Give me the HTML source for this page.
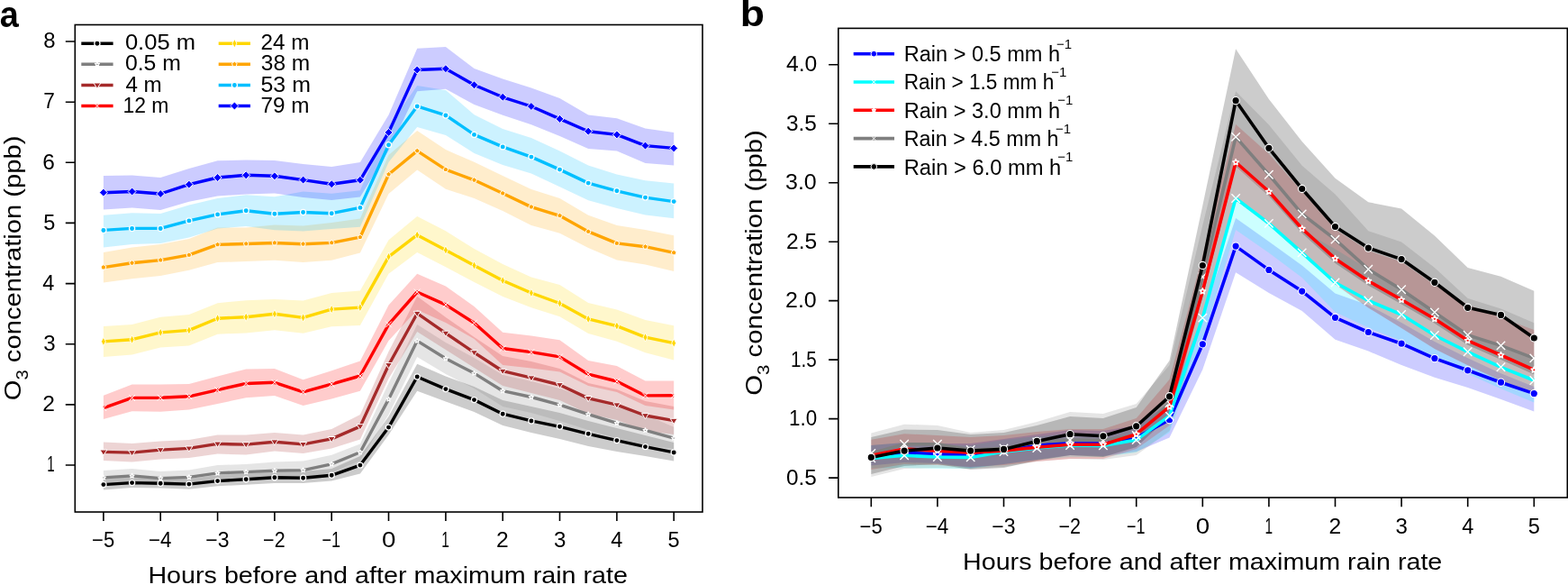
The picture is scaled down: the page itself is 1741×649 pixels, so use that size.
<!DOCTYPE html><html><head><meta charset="utf-8"><style>html,body{margin:0;padding:0;background:#fff;}svg{display:block;}text{font-family:"Liberation Sans",Arial,sans-serif;fill:#000;}</style></head><body>
<svg width="1741" height="649" viewBox="0 0 1741 649">
<rect width="1741" height="649" fill="#fff"/>
<polygon points="114.9,531 146.6,529 178.2,530 209.9,531 241.6,527 273.2,525 304.9,523 336.6,523 368.2,520 399.9,506 431.5,462 463.2,403.7 494.9,417.5 526.5,429 558.2,444 589.9,451 621.5,458 653.2,467 684.9,475 716.5,483 748.2,491.1 748.2,511.6 716.5,506 684.9,501 653.2,495 621.5,487 589.9,480 558.2,472 526.5,457 494.9,445.4 463.2,433.7 431.5,482.4 399.9,525.6 368.2,533.6 336.6,536 304.9,536.1 273.2,537.8 241.6,539.3 209.9,542.8 178.2,541.6 146.6,541.1 114.9,543.6" fill="#000000" fill-opacity="0.2"/>
<polygon points="114.9,521.9 146.6,519.9 178.2,522.9 209.9,521.6 241.6,516.1 273.2,514.9 304.9,512.6 336.6,511.6 368.2,504.8 399.9,492.4 431.5,425 463.2,360 494.9,380 526.5,397 558.2,416 589.9,423 621.5,431 653.2,442 684.9,452 716.5,460 748.2,473.7 748.2,498 716.5,494 684.9,486 653.2,477 621.5,467 589.9,458 558.2,451 526.5,431 494.9,415 463.2,396.1 431.5,460 399.9,511 368.2,524 336.6,531 304.9,531 273.2,532 241.6,533 209.9,537.5 178.2,538.5 146.6,536 114.9,538" fill="#7f7f7f" fill-opacity="0.2"/>
<polygon points="114.9,490.4 146.6,491.9 178.2,489.4 209.9,487.9 241.6,482.4 273.2,482.4 304.9,479.9 336.6,482.4 368.2,476.1 399.9,459.9 431.5,390 463.2,328.7 494.9,352 526.5,374 558.2,394.9 589.9,401 621.5,409 653.2,425 684.9,432 716.5,445 748.2,451 748.2,482 716.5,478 684.9,466 653.2,459 621.5,444 589.9,436 558.2,428 526.5,408 494.9,388 463.2,368 431.5,420 399.9,487.4 368.2,497.4 336.6,503.1 304.9,500.5 273.2,504.4 241.6,503.6 209.9,507.9 178.2,509.4 146.6,512.4 114.9,511.1" fill="#a52a2a" fill-opacity="0.2"/>
<polygon points="114.9,438.7 146.6,426.5 178.2,426.6 209.9,426.1 241.6,417.4 273.2,409.4 304.9,409 336.6,421.2 368.2,411.2 399.9,400.5 431.5,338.6 463.2,303.7 494.9,317.5 526.5,339.9 558.2,368.7 589.9,372.4 621.5,377.2 653.2,399.9 684.9,406.1 716.5,422.4 748.2,422.4 748.2,454.5 716.5,450 684.9,435 653.2,428 621.5,412.4 589.9,408.6 558.2,404.9 526.5,376 494.9,358 463.2,343.7 431.5,378 399.9,433.7 368.2,442.4 336.6,449.9 304.9,439 273.2,441.2 241.6,448 209.9,454.4 178.2,456.7 146.6,456.2 114.9,464.9" fill="#ff0000" fill-opacity="0.2"/>
<polygon points="114.9,361.9 146.6,359.9 178.2,351.7 209.9,348.9 241.6,336.2 273.2,333.2 304.9,332 336.6,333.6 368.2,324.9 399.9,322.4 431.5,266.2 463.2,240 494.9,256.2 526.5,276 558.2,293 589.9,307.4 621.5,316.1 653.2,336.1 684.9,343.6 716.5,355 748.2,361.2 748.2,399.4 716.5,391.2 684.9,378.7 653.2,369.9 621.5,351.2 589.9,341.2 558.2,329 526.5,313 494.9,296.2 463.2,280 431.5,303.7 399.9,361.1 368.2,362.3 336.6,369.8 304.9,366.2 273.2,369.4 241.6,370.7 209.9,383.6 178.2,385.6 146.6,393.6 114.9,396.1" fill="#ffd700" fill-opacity="0.2"/>
<polygon points="114.9,279.9 146.6,274.4 178.2,271.1 209.9,264.9 241.6,252.4 273.2,252.4 304.9,249.4 336.6,250.6 368.2,247.1 399.9,242.5 431.5,172 463.2,144.9 494.9,166.1 526.5,179.8 558.2,195 589.9,210 621.5,220 653.2,238.7 684.9,249.9 716.5,254.9 748.2,261.2 748.2,301.1 716.5,293.6 684.9,288.6 653.2,274.9 621.5,258.7 589.9,249.9 558.2,234 526.5,220 494.9,209.8 463.2,188.6 431.5,215 399.9,280.6 368.2,288.7 336.6,291 304.9,288.7 273.2,289.9 241.6,291.1 209.9,299.8 178.2,306.1 146.6,309.3 114.9,313.6" fill="#ffa500" fill-opacity="0.2"/>
<polygon points="114.9,238.7 146.6,236.2 178.2,236.9 209.9,227.4 241.6,219.9 273.2,216.2 304.9,218.2 336.6,212.4 368.2,214.7 399.9,211.3 431.5,140 463.2,95 494.9,100 526.5,127.2 558.2,142.9 589.9,153 621.5,167.4 653.2,183.6 684.9,193.6 716.5,200.3 748.2,203.6 748.2,242.3 716.5,238.6 684.9,231.1 653.2,222.3 621.5,207.3 589.9,192.4 558.2,183 526.5,170 494.9,149.9 463.2,141.1 431.5,180 399.9,251.7 368.2,254 336.6,256.4 304.9,255.2 273.2,251.1 241.6,253.6 209.9,263.6 178.2,269.9 146.6,271.1 114.9,274.4" fill="#00bfff" fill-opacity="0.2"/>
<polygon points="114.9,195 146.6,194.5 178.2,197 209.9,187 241.6,178.2 273.2,177.5 304.9,178 336.6,182 368.2,185 399.9,180 431.5,127.4 463.2,53.7 494.9,52 526.5,76 558.2,87.5 589.9,97.5 621.5,109 653.2,127.4 684.9,131.2 716.5,142.4 748.2,146.9 748.2,183.6 716.5,181.1 684.9,167.4 653.2,164.9 621.5,151 589.9,138.3 558.2,127.7 526.5,116.1 494.9,98.7 463.2,101.2 431.5,167 399.9,218.5 368.2,222 336.6,219 304.9,214.5 273.2,215.5 241.6,217.4 209.9,223.7 178.2,232.9 146.6,230.4 114.9,232.4" fill="#0000ff" fill-opacity="0.2"/>
<polyline points="114.9,213.7 146.6,212.5 178.2,215 209.9,204.7 241.6,197 273.2,194.3 304.9,195.3 336.6,199.6 368.2,204.2 399.9,199.8 431.5,146.9 463.2,77.5 494.9,76.2 526.5,94.3 558.2,107.8 589.9,118 621.5,131.9 653.2,145.7 684.9,149.4 716.5,161.6 748.2,164.4" fill="none" stroke="#0000ff" stroke-width="3.4" stroke-linejoin="round"/>
<polygon points="114.9,209.2 119.4,213.7 114.9,218.2 110.4,213.7" fill="#0000ff" stroke="#fff" stroke-width="1"/>
<polygon points="146.6,208 151.1,212.5 146.6,217 142.1,212.5" fill="#0000ff" stroke="#fff" stroke-width="1"/>
<polygon points="178.2,210.5 182.7,215 178.2,219.5 173.7,215" fill="#0000ff" stroke="#fff" stroke-width="1"/>
<polygon points="209.9,200.2 214.4,204.7 209.9,209.2 205.4,204.7" fill="#0000ff" stroke="#fff" stroke-width="1"/>
<polygon points="241.6,192.5 246.1,197 241.6,201.5 237.1,197" fill="#0000ff" stroke="#fff" stroke-width="1"/>
<polygon points="273.2,189.8 277.7,194.3 273.2,198.8 268.7,194.3" fill="#0000ff" stroke="#fff" stroke-width="1"/>
<polygon points="304.9,190.8 309.4,195.3 304.9,199.8 300.4,195.3" fill="#0000ff" stroke="#fff" stroke-width="1"/>
<polygon points="336.6,195.1 341.1,199.6 336.6,204.1 332.1,199.6" fill="#0000ff" stroke="#fff" stroke-width="1"/>
<polygon points="368.2,199.7 372.7,204.2 368.2,208.7 363.7,204.2" fill="#0000ff" stroke="#fff" stroke-width="1"/>
<polygon points="399.9,195.3 404.4,199.8 399.9,204.3 395.4,199.8" fill="#0000ff" stroke="#fff" stroke-width="1"/>
<polygon points="431.5,142.4 436,146.9 431.5,151.4 427,146.9" fill="#0000ff" stroke="#fff" stroke-width="1"/>
<polygon points="463.2,73 467.7,77.5 463.2,82 458.7,77.5" fill="#0000ff" stroke="#fff" stroke-width="1"/>
<polygon points="494.9,71.7 499.4,76.2 494.9,80.7 490.4,76.2" fill="#0000ff" stroke="#fff" stroke-width="1"/>
<polygon points="526.5,89.8 531,94.3 526.5,98.8 522,94.3" fill="#0000ff" stroke="#fff" stroke-width="1"/>
<polygon points="558.2,103.3 562.7,107.8 558.2,112.3 553.7,107.8" fill="#0000ff" stroke="#fff" stroke-width="1"/>
<polygon points="589.9,113.5 594.4,118 589.9,122.5 585.4,118" fill="#0000ff" stroke="#fff" stroke-width="1"/>
<polygon points="621.5,127.4 626,131.9 621.5,136.4 617,131.9" fill="#0000ff" stroke="#fff" stroke-width="1"/>
<polygon points="653.2,141.2 657.7,145.7 653.2,150.2 648.7,145.7" fill="#0000ff" stroke="#fff" stroke-width="1"/>
<polygon points="684.9,144.9 689.4,149.4 684.9,153.9 680.4,149.4" fill="#0000ff" stroke="#fff" stroke-width="1"/>
<polygon points="716.5,157.1 721,161.6 716.5,166.1 712,161.6" fill="#0000ff" stroke="#fff" stroke-width="1"/>
<polygon points="748.2,159.9 752.7,164.4 748.2,168.9 743.7,164.4" fill="#0000ff" stroke="#fff" stroke-width="1"/>
<polyline points="114.9,255.4 146.6,253.4 178.2,253.4 209.9,244.9 241.6,237.9 273.2,233.7 304.9,237.3 336.6,235.5 368.2,236.7 399.9,230.4 431.5,160.8 463.2,117.9 494.9,127.9 526.5,149.4 558.2,162.9 589.9,174.1 621.5,188.1 653.2,203.1 684.9,211.8 716.5,219.1 748.2,223.6" fill="none" stroke="#00bfff" stroke-width="3.4" stroke-linejoin="round"/>
<circle cx="114.9" cy="255.4" r="3.1" fill="#00bfff" stroke="#fff" stroke-width="1.25"/>
<circle cx="146.6" cy="253.4" r="3.1" fill="#00bfff" stroke="#fff" stroke-width="1.25"/>
<circle cx="178.2" cy="253.4" r="3.1" fill="#00bfff" stroke="#fff" stroke-width="1.25"/>
<circle cx="209.9" cy="244.9" r="3.1" fill="#00bfff" stroke="#fff" stroke-width="1.25"/>
<circle cx="241.6" cy="237.9" r="3.1" fill="#00bfff" stroke="#fff" stroke-width="1.25"/>
<circle cx="273.2" cy="233.7" r="3.1" fill="#00bfff" stroke="#fff" stroke-width="1.25"/>
<circle cx="304.9" cy="237.3" r="3.1" fill="#00bfff" stroke="#fff" stroke-width="1.25"/>
<circle cx="336.6" cy="235.5" r="3.1" fill="#00bfff" stroke="#fff" stroke-width="1.25"/>
<circle cx="368.2" cy="236.7" r="3.1" fill="#00bfff" stroke="#fff" stroke-width="1.25"/>
<circle cx="399.9" cy="230.4" r="3.1" fill="#00bfff" stroke="#fff" stroke-width="1.25"/>
<circle cx="431.5" cy="160.8" r="3.1" fill="#00bfff" stroke="#fff" stroke-width="1.25"/>
<circle cx="463.2" cy="117.9" r="3.1" fill="#00bfff" stroke="#fff" stroke-width="1.25"/>
<circle cx="494.9" cy="127.9" r="3.1" fill="#00bfff" stroke="#fff" stroke-width="1.25"/>
<circle cx="526.5" cy="149.4" r="3.1" fill="#00bfff" stroke="#fff" stroke-width="1.25"/>
<circle cx="558.2" cy="162.9" r="3.1" fill="#00bfff" stroke="#fff" stroke-width="1.25"/>
<circle cx="589.9" cy="174.1" r="3.1" fill="#00bfff" stroke="#fff" stroke-width="1.25"/>
<circle cx="621.5" cy="188.1" r="3.1" fill="#00bfff" stroke="#fff" stroke-width="1.25"/>
<circle cx="653.2" cy="203.1" r="3.1" fill="#00bfff" stroke="#fff" stroke-width="1.25"/>
<circle cx="684.9" cy="211.8" r="3.1" fill="#00bfff" stroke="#fff" stroke-width="1.25"/>
<circle cx="716.5" cy="219.1" r="3.1" fill="#00bfff" stroke="#fff" stroke-width="1.25"/>
<circle cx="748.2" cy="223.6" r="3.1" fill="#00bfff" stroke="#fff" stroke-width="1.25"/>
<polyline points="114.9,296.6 146.6,291.8 178.2,288.6 209.9,282.9 241.6,271.4 273.2,270.5 304.9,269.5 336.6,270.7 368.2,269.4 399.9,263.2 431.5,193.5 463.2,167.4 494.9,188.1 526.5,199.8 558.2,214.5 589.9,229.6 621.5,239.3 653.2,256.9 684.9,269.9 716.5,273.7 748.2,280.4" fill="none" stroke="#ffa500" stroke-width="3.4" stroke-linejoin="round"/>
<polygon points="114.9,293.6 117.8,295.7 116.7,299 113.1,299 112,295.7" fill="#ffa500" stroke="#fff" stroke-width="1"/>
<polygon points="146.6,288.8 149.4,290.9 148.3,294.2 144.8,294.2 143.7,290.9" fill="#ffa500" stroke="#fff" stroke-width="1"/>
<polygon points="178.2,285.6 181.1,287.7 180,291 176.5,291 175.4,287.7" fill="#ffa500" stroke="#fff" stroke-width="1"/>
<polygon points="209.9,279.9 212.7,282 211.7,285.3 208.1,285.3 207,282" fill="#ffa500" stroke="#fff" stroke-width="1"/>
<polygon points="241.6,268.4 244.4,270.5 243.3,273.8 239.8,273.8 238.7,270.5" fill="#ffa500" stroke="#fff" stroke-width="1"/>
<polygon points="273.2,267.5 276.1,269.6 275,272.9 271.5,272.9 270.4,269.6" fill="#ffa500" stroke="#fff" stroke-width="1"/>
<polygon points="304.9,266.5 307.7,268.6 306.7,271.9 303.1,271.9 302,268.6" fill="#ffa500" stroke="#fff" stroke-width="1"/>
<polygon points="336.6,267.7 339.4,269.8 338.3,273.1 334.8,273.1 333.7,269.8" fill="#ffa500" stroke="#fff" stroke-width="1"/>
<polygon points="368.2,266.4 371.1,268.5 370,271.8 366.5,271.8 365.4,268.5" fill="#ffa500" stroke="#fff" stroke-width="1"/>
<polygon points="399.9,260.2 402.7,262.3 401.6,265.6 398.1,265.6 397,262.3" fill="#ffa500" stroke="#fff" stroke-width="1"/>
<polygon points="431.5,190.5 434.4,192.6 433.3,195.9 429.8,195.9 428.7,192.6" fill="#ffa500" stroke="#fff" stroke-width="1"/>
<polygon points="463.2,164.4 466.1,166.5 465,169.8 461.5,169.8 460.4,166.5" fill="#ffa500" stroke="#fff" stroke-width="1"/>
<polygon points="494.9,185.1 497.7,187.2 496.6,190.5 493.1,190.5 492,187.2" fill="#ffa500" stroke="#fff" stroke-width="1"/>
<polygon points="526.5,196.8 529.4,198.9 528.3,202.2 524.8,202.2 523.7,198.9" fill="#ffa500" stroke="#fff" stroke-width="1"/>
<polygon points="558.2,211.5 561.1,213.6 560,216.9 556.4,216.9 555.4,213.6" fill="#ffa500" stroke="#fff" stroke-width="1"/>
<polygon points="589.9,226.6 592.7,228.7 591.6,232 588.1,232 587,228.7" fill="#ffa500" stroke="#fff" stroke-width="1"/>
<polygon points="621.5,236.3 624.4,238.4 623.3,241.7 619.8,241.7 618.7,238.4" fill="#ffa500" stroke="#fff" stroke-width="1"/>
<polygon points="653.2,253.9 656.1,256 655,259.3 651.4,259.3 650.4,256" fill="#ffa500" stroke="#fff" stroke-width="1"/>
<polygon points="684.9,266.9 687.7,269 686.6,272.3 683.1,272.3 682,269" fill="#ffa500" stroke="#fff" stroke-width="1"/>
<polygon points="716.5,270.7 719.4,272.8 718.3,276.1 714.8,276.1 713.7,272.8" fill="#ffa500" stroke="#fff" stroke-width="1"/>
<polygon points="748.2,277.4 751.1,279.5 750,282.8 746.4,282.8 745.3,279.5" fill="#ffa500" stroke="#fff" stroke-width="1"/>
<polyline points="114.9,378.9 146.6,376.7 178.2,368.9 209.9,366.4 241.6,353.2 273.2,351.7 304.9,348.3 336.6,352.4 368.2,343.1 399.9,341.1 431.5,284.9 463.2,260.7 494.9,277.5 526.5,294.5 558.2,311.2 589.9,325 621.5,336.5 653.2,353.9 684.9,361.6 716.5,374.2 748.2,380.7" fill="none" stroke="#ffd700" stroke-width="3.4" stroke-linejoin="round"/>
<polygon points="114.9,374.1 117.4,378.9 114.9,383.7 112.4,378.9" fill="#ffd700" stroke="#fff" stroke-width="0.9"/>
<polygon points="146.6,371.9 149.1,376.7 146.6,381.5 144.1,376.7" fill="#ffd700" stroke="#fff" stroke-width="0.9"/>
<polygon points="178.2,364.1 180.7,368.9 178.2,373.7 175.7,368.9" fill="#ffd700" stroke="#fff" stroke-width="0.9"/>
<polygon points="209.9,361.6 212.4,366.4 209.9,371.2 207.4,366.4" fill="#ffd700" stroke="#fff" stroke-width="0.9"/>
<polygon points="241.6,348.4 244.1,353.2 241.6,358 239.1,353.2" fill="#ffd700" stroke="#fff" stroke-width="0.9"/>
<polygon points="273.2,346.9 275.7,351.7 273.2,356.5 270.7,351.7" fill="#ffd700" stroke="#fff" stroke-width="0.9"/>
<polygon points="304.9,343.5 307.4,348.3 304.9,353.1 302.4,348.3" fill="#ffd700" stroke="#fff" stroke-width="0.9"/>
<polygon points="336.6,347.6 339.1,352.4 336.6,357.2 334.1,352.4" fill="#ffd700" stroke="#fff" stroke-width="0.9"/>
<polygon points="368.2,338.3 370.7,343.1 368.2,347.9 365.7,343.1" fill="#ffd700" stroke="#fff" stroke-width="0.9"/>
<polygon points="399.9,336.3 402.4,341.1 399.9,345.9 397.4,341.1" fill="#ffd700" stroke="#fff" stroke-width="0.9"/>
<polygon points="431.5,280.1 434,284.9 431.5,289.7 429,284.9" fill="#ffd700" stroke="#fff" stroke-width="0.9"/>
<polygon points="463.2,255.9 465.7,260.7 463.2,265.5 460.7,260.7" fill="#ffd700" stroke="#fff" stroke-width="0.9"/>
<polygon points="494.9,272.7 497.4,277.5 494.9,282.3 492.4,277.5" fill="#ffd700" stroke="#fff" stroke-width="0.9"/>
<polygon points="526.5,289.7 529,294.5 526.5,299.3 524,294.5" fill="#ffd700" stroke="#fff" stroke-width="0.9"/>
<polygon points="558.2,306.4 560.7,311.2 558.2,316 555.7,311.2" fill="#ffd700" stroke="#fff" stroke-width="0.9"/>
<polygon points="589.9,320.2 592.4,325 589.9,329.8 587.4,325" fill="#ffd700" stroke="#fff" stroke-width="0.9"/>
<polygon points="621.5,331.7 624,336.5 621.5,341.3 619,336.5" fill="#ffd700" stroke="#fff" stroke-width="0.9"/>
<polygon points="653.2,349.1 655.7,353.9 653.2,358.7 650.7,353.9" fill="#ffd700" stroke="#fff" stroke-width="0.9"/>
<polygon points="684.9,356.8 687.4,361.6 684.9,366.4 682.4,361.6" fill="#ffd700" stroke="#fff" stroke-width="0.9"/>
<polygon points="716.5,369.4 719,374.2 716.5,379 714,374.2" fill="#ffd700" stroke="#fff" stroke-width="0.9"/>
<polygon points="748.2,375.9 750.7,380.7 748.2,385.5 745.7,380.7" fill="#ffd700" stroke="#fff" stroke-width="0.9"/>
<polyline points="114.9,452.6 146.6,441.4 178.2,441.2 209.9,439.8 241.6,432.6 273.2,425.5 304.9,424.3 336.6,434.9 368.2,426.2 399.9,417 431.5,359.9 463.2,324 494.9,338.1 526.5,358.2 558.2,386.5 589.9,390.6 621.5,395.9 653.2,415.2 684.9,423 716.5,438.9 748.2,438.7" fill="none" stroke="#ff0000" stroke-width="3.4" stroke-linejoin="round"/>
<path d="M111.5 449.2L118.3 456M111.5 456L118.3 449.2" stroke="#fff" stroke-width="1.0" fill="none"/>
<path d="M143.2 438L150 444.8M143.2 444.8L150 438" stroke="#fff" stroke-width="1.0" fill="none"/>
<path d="M174.8 437.8L181.6 444.6M174.8 444.6L181.6 437.8" stroke="#fff" stroke-width="1.0" fill="none"/>
<path d="M206.5 436.4L213.3 443.2M206.5 443.2L213.3 436.4" stroke="#fff" stroke-width="1.0" fill="none"/>
<path d="M238.2 429.2L245 436M238.2 436L245 429.2" stroke="#fff" stroke-width="1.0" fill="none"/>
<path d="M269.8 422.1L276.6 428.9M269.8 428.9L276.6 422.1" stroke="#fff" stroke-width="1.0" fill="none"/>
<path d="M301.5 420.9L308.3 427.7M301.5 427.7L308.3 420.9" stroke="#fff" stroke-width="1.0" fill="none"/>
<path d="M333.2 431.5L340 438.3M333.2 438.3L340 431.5" stroke="#fff" stroke-width="1.0" fill="none"/>
<path d="M364.8 422.8L371.6 429.6M364.8 429.6L371.6 422.8" stroke="#fff" stroke-width="1.0" fill="none"/>
<path d="M396.5 413.6L403.3 420.4M396.5 420.4L403.3 413.6" stroke="#fff" stroke-width="1.0" fill="none"/>
<path d="M428.1 356.5L434.9 363.3M428.1 363.3L434.9 356.5" stroke="#fff" stroke-width="1.0" fill="none"/>
<path d="M459.8 320.6L466.6 327.4M459.8 327.4L466.6 320.6" stroke="#fff" stroke-width="1.0" fill="none"/>
<path d="M491.5 334.7L498.3 341.5M491.5 341.5L498.3 334.7" stroke="#fff" stroke-width="1.0" fill="none"/>
<path d="M523.1 354.8L529.9 361.6M523.1 361.6L529.9 354.8" stroke="#fff" stroke-width="1.0" fill="none"/>
<path d="M554.8 383.1L561.6 389.9M554.8 389.9L561.6 383.1" stroke="#fff" stroke-width="1.0" fill="none"/>
<path d="M586.5 387.2L593.3 394M586.5 394L593.3 387.2" stroke="#fff" stroke-width="1.0" fill="none"/>
<path d="M618.1 392.5L624.9 399.3M618.1 399.3L624.9 392.5" stroke="#fff" stroke-width="1.0" fill="none"/>
<path d="M649.8 411.8L656.6 418.6M649.8 418.6L656.6 411.8" stroke="#fff" stroke-width="1.0" fill="none"/>
<path d="M681.5 419.6L688.3 426.4M681.5 426.4L688.3 419.6" stroke="#fff" stroke-width="1.0" fill="none"/>
<path d="M713.1 435.5L719.9 442.3M713.1 442.3L719.9 435.5" stroke="#fff" stroke-width="1.0" fill="none"/>
<path d="M744.8 435.3L751.6 442.1M744.8 442.1L751.6 435.3" stroke="#fff" stroke-width="1.0" fill="none"/>
<polyline points="114.9,501.4 146.6,502.1 178.2,499.1 209.9,497.4 241.6,492.4 273.2,493.1 304.9,490.2 336.6,492.9 368.2,486.9 399.9,473.1 431.5,405 463.2,347.7 494.9,369.6 526.5,391.1 558.2,411.7 589.9,419.2 621.5,427 653.2,441.9 684.9,449.2 716.5,461 748.2,466.7" fill="none" stroke="#a52a2a" stroke-width="3.4" stroke-linejoin="round"/>
<polygon points="110.9,499 118.9,499 114.9,505.2" fill="#a52a2a" stroke="#fff" stroke-width="1"/>
<polygon points="142.6,499.7 150.6,499.7 146.6,505.9" fill="#a52a2a" stroke="#fff" stroke-width="1"/>
<polygon points="174.2,496.7 182.2,496.7 178.2,502.9" fill="#a52a2a" stroke="#fff" stroke-width="1"/>
<polygon points="205.9,495 213.9,495 209.9,501.2" fill="#a52a2a" stroke="#fff" stroke-width="1"/>
<polygon points="237.6,490 245.6,490 241.6,496.2" fill="#a52a2a" stroke="#fff" stroke-width="1"/>
<polygon points="269.2,490.7 277.2,490.7 273.2,496.9" fill="#a52a2a" stroke="#fff" stroke-width="1"/>
<polygon points="300.9,487.8 308.9,487.8 304.9,494" fill="#a52a2a" stroke="#fff" stroke-width="1"/>
<polygon points="332.6,490.5 340.6,490.5 336.6,496.7" fill="#a52a2a" stroke="#fff" stroke-width="1"/>
<polygon points="364.2,484.5 372.2,484.5 368.2,490.7" fill="#a52a2a" stroke="#fff" stroke-width="1"/>
<polygon points="395.9,470.7 403.9,470.7 399.9,476.9" fill="#a52a2a" stroke="#fff" stroke-width="1"/>
<polygon points="427.5,402.6 435.5,402.6 431.5,408.8" fill="#a52a2a" stroke="#fff" stroke-width="1"/>
<polygon points="459.2,345.3 467.2,345.3 463.2,351.5" fill="#a52a2a" stroke="#fff" stroke-width="1"/>
<polygon points="490.9,367.2 498.9,367.2 494.9,373.4" fill="#a52a2a" stroke="#fff" stroke-width="1"/>
<polygon points="522.5,388.7 530.5,388.7 526.5,394.9" fill="#a52a2a" stroke="#fff" stroke-width="1"/>
<polygon points="554.2,409.3 562.2,409.3 558.2,415.5" fill="#a52a2a" stroke="#fff" stroke-width="1"/>
<polygon points="585.9,416.8 593.9,416.8 589.9,423" fill="#a52a2a" stroke="#fff" stroke-width="1"/>
<polygon points="617.5,424.6 625.5,424.6 621.5,430.8" fill="#a52a2a" stroke="#fff" stroke-width="1"/>
<polygon points="649.2,439.5 657.2,439.5 653.2,445.7" fill="#a52a2a" stroke="#fff" stroke-width="1"/>
<polygon points="680.9,446.8 688.9,446.8 684.9,453" fill="#a52a2a" stroke="#fff" stroke-width="1"/>
<polygon points="712.5,458.6 720.5,458.6 716.5,464.8" fill="#a52a2a" stroke="#fff" stroke-width="1"/>
<polygon points="744.2,464.3 752.2,464.3 748.2,470.5" fill="#a52a2a" stroke="#fff" stroke-width="1"/>
<polyline points="114.9,529.9 146.6,527.9 178.2,530.6 209.9,529.4 241.6,524.9 273.2,523.6 304.9,522.1 336.6,521.6 368.2,514.8 399.9,501.8 431.5,442.9 463.2,378.1 494.9,397.8 526.5,414.1 558.2,433.7 589.9,440.5 621.5,449.2 653.2,459.6 684.9,469.4 716.5,477.4 748.2,486.1" fill="none" stroke="#7f7f7f" stroke-width="3.4" stroke-linejoin="round"/>
<polygon points="114.9,527.3 115.6,529 117.4,529.1 116,530.3 116.4,532 114.9,531.1 113.4,532 113.8,530.3 112.4,529.1 114.2,529" fill="#7f7f7f" stroke="#fff" stroke-width="1.3" stroke-linejoin="round"/>
<polygon points="146.6,525.3 147.3,527 149,527.1 147.7,528.3 148.1,530 146.6,529.1 145,530 145.5,528.3 144.1,527.1 145.9,527" fill="#7f7f7f" stroke="#fff" stroke-width="1.3" stroke-linejoin="round"/>
<polygon points="178.2,528 178.9,529.7 180.7,529.8 179.3,531 179.8,532.7 178.2,531.8 176.7,532.7 177.1,531 175.8,529.8 177.5,529.7" fill="#7f7f7f" stroke="#fff" stroke-width="1.3" stroke-linejoin="round"/>
<polygon points="209.9,526.8 210.6,528.5 212.4,528.6 211,529.8 211.4,531.5 209.9,530.6 208.4,531.5 208.8,529.8 207.4,528.6 209.2,528.5" fill="#7f7f7f" stroke="#fff" stroke-width="1.3" stroke-linejoin="round"/>
<polygon points="241.6,522.3 242.2,524 244,524.1 242.7,525.3 243.1,527 241.6,526.1 240,527 240.4,525.3 239.1,524.1 240.9,524" fill="#7f7f7f" stroke="#fff" stroke-width="1.3" stroke-linejoin="round"/>
<polygon points="273.2,521 273.9,522.7 275.7,522.8 274.3,524 274.8,525.7 273.2,524.8 271.7,525.7 272.1,524 270.8,522.8 272.5,522.7" fill="#7f7f7f" stroke="#fff" stroke-width="1.3" stroke-linejoin="round"/>
<polygon points="304.9,519.5 305.6,521.2 307.4,521.3 306,522.5 306.4,524.2 304.9,523.3 303.4,524.2 303.8,522.5 302.4,521.3 304.2,521.2" fill="#7f7f7f" stroke="#fff" stroke-width="1.3" stroke-linejoin="round"/>
<polygon points="336.6,519 337.2,520.7 339,520.8 337.7,522 338.1,523.7 336.6,522.8 335,523.7 335.4,522 334.1,520.8 335.9,520.7" fill="#7f7f7f" stroke="#fff" stroke-width="1.3" stroke-linejoin="round"/>
<polygon points="368.2,512.2 368.9,513.9 370.7,514 369.3,515.2 369.7,516.9 368.2,516 366.7,516.9 367.1,515.2 365.7,514 367.5,513.9" fill="#7f7f7f" stroke="#fff" stroke-width="1.3" stroke-linejoin="round"/>
<polygon points="399.9,499.2 400.6,500.9 402.4,501 401,502.2 401.4,503.9 399.9,503 398.4,503.9 398.8,502.2 397.4,501 399.2,500.9" fill="#7f7f7f" stroke="#fff" stroke-width="1.3" stroke-linejoin="round"/>
<polygon points="431.5,440.3 432.2,442 434,442.1 432.7,443.3 433.1,445 431.5,444.1 430,445 430.4,443.3 429.1,442.1 430.9,442" fill="#7f7f7f" stroke="#fff" stroke-width="1.3" stroke-linejoin="round"/>
<polygon points="463.2,375.5 463.9,377.2 465.7,377.3 464.3,378.5 464.7,380.2 463.2,379.3 461.7,380.2 462.1,378.5 460.7,377.3 462.5,377.2" fill="#7f7f7f" stroke="#fff" stroke-width="1.3" stroke-linejoin="round"/>
<polygon points="494.9,395.2 495.6,396.9 497.4,397 496,398.2 496.4,399.9 494.9,399 493.4,399.9 493.8,398.2 492.4,397 494.2,396.9" fill="#7f7f7f" stroke="#fff" stroke-width="1.3" stroke-linejoin="round"/>
<polygon points="526.5,411.5 527.2,413.2 529,413.3 527.7,414.5 528.1,416.2 526.5,415.3 525,416.2 525.4,414.5 524.1,413.3 525.9,413.2" fill="#7f7f7f" stroke="#fff" stroke-width="1.3" stroke-linejoin="round"/>
<polygon points="558.2,431.1 558.9,432.8 560.7,432.9 559.3,434.1 559.7,435.8 558.2,434.9 556.7,435.8 557.1,434.1 555.7,432.9 557.5,432.8" fill="#7f7f7f" stroke="#fff" stroke-width="1.3" stroke-linejoin="round"/>
<polygon points="589.9,437.9 590.6,439.6 592.3,439.7 591,440.9 591.4,442.6 589.9,441.7 588.3,442.6 588.8,440.9 587.4,439.7 589.2,439.6" fill="#7f7f7f" stroke="#fff" stroke-width="1.3" stroke-linejoin="round"/>
<polygon points="621.5,446.6 622.2,448.3 624,448.4 622.7,449.6 623.1,451.3 621.5,450.4 620,451.3 620.4,449.6 619.1,448.4 620.9,448.3" fill="#7f7f7f" stroke="#fff" stroke-width="1.3" stroke-linejoin="round"/>
<polygon points="653.2,457 653.9,458.7 655.7,458.8 654.3,460 654.7,461.7 653.2,460.8 651.7,461.7 652.1,460 650.7,458.8 652.5,458.7" fill="#7f7f7f" stroke="#fff" stroke-width="1.3" stroke-linejoin="round"/>
<polygon points="684.9,466.8 685.6,468.5 687.3,468.6 686,469.8 686.4,471.5 684.9,470.6 683.3,471.5 683.8,469.8 682.4,468.6 684.2,468.5" fill="#7f7f7f" stroke="#fff" stroke-width="1.3" stroke-linejoin="round"/>
<polygon points="716.5,474.8 717.2,476.5 719,476.6 717.6,477.8 718.1,479.5 716.5,478.6 715,479.5 715.4,477.8 714.1,476.6 715.8,476.5" fill="#7f7f7f" stroke="#fff" stroke-width="1.3" stroke-linejoin="round"/>
<polygon points="748.2,483.5 748.9,485.2 750.7,485.3 749.3,486.5 749.7,488.2 748.2,487.3 746.7,488.2 747.1,486.5 745.7,485.3 747.5,485.2" fill="#7f7f7f" stroke="#fff" stroke-width="1.3" stroke-linejoin="round"/>
<polyline points="114.9,537.6 146.6,535.6 178.2,536.3 209.9,537.1 241.6,533.6 273.2,531.8 304.9,529.7 336.6,530.3 368.2,527.3 399.9,516.1 431.5,474.1 463.2,418 494.9,431.6 526.5,443.6 558.2,459.2 589.9,466.9 621.5,473.3 653.2,481.3 684.9,488.6 716.5,495.6 748.2,501.9" fill="none" stroke="#000000" stroke-width="3.4" stroke-linejoin="round"/>
<circle cx="114.9" cy="537.6" r="3.1" fill="#000000" stroke="#fff" stroke-width="1.25"/>
<circle cx="146.6" cy="535.6" r="3.1" fill="#000000" stroke="#fff" stroke-width="1.25"/>
<circle cx="178.2" cy="536.3" r="3.1" fill="#000000" stroke="#fff" stroke-width="1.25"/>
<circle cx="209.9" cy="537.1" r="3.1" fill="#000000" stroke="#fff" stroke-width="1.25"/>
<circle cx="241.6" cy="533.6" r="3.1" fill="#000000" stroke="#fff" stroke-width="1.25"/>
<circle cx="273.2" cy="531.8" r="3.1" fill="#000000" stroke="#fff" stroke-width="1.25"/>
<circle cx="304.9" cy="529.7" r="3.1" fill="#000000" stroke="#fff" stroke-width="1.25"/>
<circle cx="336.6" cy="530.3" r="3.1" fill="#000000" stroke="#fff" stroke-width="1.25"/>
<circle cx="368.2" cy="527.3" r="3.1" fill="#000000" stroke="#fff" stroke-width="1.25"/>
<circle cx="399.9" cy="516.1" r="3.1" fill="#000000" stroke="#fff" stroke-width="1.25"/>
<circle cx="431.5" cy="474.1" r="3.1" fill="#000000" stroke="#fff" stroke-width="1.25"/>
<circle cx="463.2" cy="418" r="3.1" fill="#000000" stroke="#fff" stroke-width="1.25"/>
<circle cx="494.9" cy="431.6" r="3.1" fill="#000000" stroke="#fff" stroke-width="1.25"/>
<circle cx="526.5" cy="443.6" r="3.1" fill="#000000" stroke="#fff" stroke-width="1.25"/>
<circle cx="558.2" cy="459.2" r="3.1" fill="#000000" stroke="#fff" stroke-width="1.25"/>
<circle cx="589.9" cy="466.9" r="3.1" fill="#000000" stroke="#fff" stroke-width="1.25"/>
<circle cx="621.5" cy="473.3" r="3.1" fill="#000000" stroke="#fff" stroke-width="1.25"/>
<circle cx="653.2" cy="481.3" r="3.1" fill="#000000" stroke="#fff" stroke-width="1.25"/>
<circle cx="684.9" cy="488.6" r="3.1" fill="#000000" stroke="#fff" stroke-width="1.25"/>
<circle cx="716.5" cy="495.6" r="3.1" fill="#000000" stroke="#fff" stroke-width="1.25"/>
<circle cx="748.2" cy="501.9" r="3.1" fill="#000000" stroke="#fff" stroke-width="1.25"/>
<rect x="83.3" y="27.5" width="696.7" height="540.5" fill="none" stroke="#000" stroke-width="1.6"/>
<path d="M83.3 516H72.8M83.3 448.9H72.8M83.3 381.7H72.8M83.3 314.6H72.8M83.3 247.4H72.8M83.3 180.3H72.8M83.3 113.2H72.8M83.3 46H72.8M114.9 568V578M178.2 568V578M241.6 568V578M304.9 568V578M368.2 568V578M431.5 568V578M494.9 568V578M558.2 568V578M621.5 568V578M684.9 568V578M748.2 568V578" stroke="#000" stroke-width="1.6" fill="none"/>
<path d="M90.3 48.2H125.6" stroke="#000000" stroke-width="3.5"/>
<circle cx="107.9" cy="48.2" r="3.1" fill="#000000" stroke="#fff" stroke-width="1.25"/>
<path d="M90.3 71.3H125.6" stroke="#7f7f7f" stroke-width="3.5"/>
<polygon points="107.9,68.7 108.6,70.4 110.4,70.5 109.1,71.7 109.5,73.4 107.9,72.5 106.4,73.4 106.8,71.7 105.5,70.5 107.3,70.4" fill="#7f7f7f" stroke="#fff" stroke-width="1.3" stroke-linejoin="round"/>
<path d="M90.3 94.4H125.6" stroke="#a52a2a" stroke-width="3.5"/>
<polygon points="103.9,92 111.9,92 107.9,98.2" fill="#a52a2a" stroke="#fff" stroke-width="1"/>
<path d="M90.3 117.5H125.6" stroke="#ff0000" stroke-width="3.5"/>
<path d="M104.5 114.1L111.3 120.9M104.5 120.9L111.3 114.1" stroke="#fff" stroke-width="1.0" fill="none"/>
<path d="M242.7 48.2H278" stroke="#ffd700" stroke-width="3.5"/>
<polygon points="260.4,43.4 262.9,48.2 260.4,53 257.9,48.2" fill="#ffd700" stroke="#fff" stroke-width="0.9"/>
<path d="M242.7 71.3H278" stroke="#ffa500" stroke-width="3.5"/>
<polygon points="260.4,68.3 263.2,70.4 262.1,73.7 258.6,73.7 257.5,70.4" fill="#ffa500" stroke="#fff" stroke-width="1"/>
<path d="M242.7 94.4H278" stroke="#00bfff" stroke-width="3.5"/>
<circle cx="260.4" cy="94.4" r="3.1" fill="#00bfff" stroke="#fff" stroke-width="1.25"/>
<path d="M242.7 117.5H278" stroke="#0000ff" stroke-width="3.5"/>
<polygon points="260.4,113 264.9,117.5 260.4,122 255.9,117.5" fill="#0000ff" stroke="#fff" stroke-width="1"/>
<polygon points="967.3,494 1004.1,491 1040.9,492 1077.7,492 1114.5,487 1151.3,482 1188.1,477 1224.9,478 1261.7,472 1298.5,447 1335.3,350 1372.1,242 1408.9,267.9 1445.7,294.4 1482.5,325.5 1519.3,338.5 1556.1,358 1592.9,379 1629.7,397.3 1666.5,414.3 1703.3,429 1703.3,456.6 1666.5,443 1629.7,430.1 1592.9,418.7 1556.1,405 1519.3,389.6 1482.5,376.7 1445.7,345 1408.9,325 1372.1,302.3 1335.3,410 1298.5,485.5 1261.7,501 1224.9,506 1188.1,505 1151.3,510 1114.5,515 1077.7,519 1040.9,514 1004.1,513 967.3,516.5" fill="#0000ff" fill-opacity="0.2"/>
<polygon points="967.3,494 1004.1,491 1040.9,493 1077.7,494 1114.5,488 1151.3,484 1188.1,481 1224.9,481 1261.7,474 1298.5,443 1335.3,325 1372.1,186 1408.9,216.5 1445.7,255.7 1482.5,276.2 1519.3,298.7 1556.1,321.2 1592.9,346.4 1629.7,371.7 1666.5,383.4 1703.3,397.4 1703.3,446.6 1666.5,431.2 1629.7,414.8 1592.9,397.6 1556.1,378.2 1519.3,363.5 1482.5,346.3 1445.7,308.1 1408.9,280.4 1372.1,255.1 1335.3,378 1298.5,480 1261.7,502 1224.9,507 1188.1,507 1151.3,510 1114.5,515 1077.7,520 1040.9,520 1004.1,519 967.3,519.5" fill="#00ffff" fill-opacity="0.2"/>
<polygon points="967.3,487.7 1004.1,481.2 1040.9,483 1077.7,485 1114.5,483 1151.3,479 1188.1,476 1224.9,476 1261.7,464 1298.5,421 1335.3,283 1372.1,137.9 1408.9,170.8 1445.7,212.5 1482.5,254.5 1519.3,278.1 1556.1,290.6 1592.9,316.3 1629.7,338 1666.5,352.4 1703.3,366 1703.3,437 1666.5,422.3 1629.7,405.3 1592.9,387 1556.1,364 1519.3,341.5 1482.5,315.5 1445.7,282.4 1408.9,249.9 1372.1,222 1335.3,350 1298.5,472 1261.7,498 1224.9,509 1188.1,509 1151.3,512 1114.5,516 1077.7,518 1040.9,516 1004.1,515 967.3,521" fill="#ff0000" fill-opacity="0.2"/>
<polygon points="967.3,480.5 1004.1,470.7 1040.9,472 1077.7,480 1114.5,477 1151.3,468 1188.1,457 1224.9,459 1261.7,448 1298.5,405 1335.3,250 1372.1,101.3 1408.9,138.5 1445.7,183.8 1482.5,215.4 1519.3,256.2 1556.1,268.6 1592.9,297 1629.7,331.1 1666.5,342.4 1703.3,358.2 1703.3,437 1666.5,422.3 1629.7,405.3 1592.9,387 1556.1,364 1519.3,341.5 1482.5,315.5 1445.7,282.4 1408.9,249.9 1372.1,222 1335.3,355 1298.5,478 1261.7,505 1224.9,510 1188.1,509 1151.3,512 1114.5,518 1077.7,520 1040.9,519 1004.1,520 967.3,529" fill="#7f7f7f" fill-opacity="0.2"/>
<polygon points="967.3,485 1004.1,476.6 1040.9,477 1077.7,482 1114.5,480 1151.3,472 1188.1,462 1224.9,464 1261.7,452 1298.5,400 1335.3,228 1372.1,54.2 1408.9,110 1445.7,157 1482.5,197.7 1519.3,224.3 1556.1,231.4 1592.9,261.5 1629.7,297.1 1666.5,306.8 1703.3,322.8 1703.3,415.4 1666.5,399 1629.7,382.8 1592.9,358.8 1556.1,337.5 1519.3,316.7 1482.5,291.9 1445.7,258.7 1408.9,217.5 1372.1,185 1335.3,330 1298.5,462 1261.7,496 1224.9,507 1188.1,505 1151.3,511 1114.5,519 1077.7,521 1040.9,515 1004.1,517 967.3,526" fill="#000000" fill-opacity="0.2"/>
<polyline points="967.3,507.4 1004.1,502.2 1040.9,503.9 1077.7,504.3 1114.5,499.7 1151.3,494.4 1188.1,489.9 1224.9,490.6 1261.7,485.5 1298.5,465.7 1335.3,381.8 1372.1,273.1 1408.9,299.4 1445.7,323.1 1482.5,352.3 1519.3,368.5 1556.1,381.2 1592.9,397.6 1629.7,410.8 1666.5,424.2 1703.3,436.6" fill="none" stroke="#0000ff" stroke-width="3.6" stroke-linejoin="round"/>
<circle cx="967.3" cy="507.4" r="4.15" fill="#0000ff" stroke="#fff" stroke-width="1.1"/>
<circle cx="1004.1" cy="502.2" r="4.15" fill="#0000ff" stroke="#fff" stroke-width="1.1"/>
<circle cx="1040.9" cy="503.9" r="4.15" fill="#0000ff" stroke="#fff" stroke-width="1.1"/>
<circle cx="1077.7" cy="504.3" r="4.15" fill="#0000ff" stroke="#fff" stroke-width="1.1"/>
<circle cx="1114.5" cy="499.7" r="4.15" fill="#0000ff" stroke="#fff" stroke-width="1.1"/>
<circle cx="1151.3" cy="494.4" r="4.15" fill="#0000ff" stroke="#fff" stroke-width="1.1"/>
<circle cx="1188.1" cy="489.9" r="4.15" fill="#0000ff" stroke="#fff" stroke-width="1.1"/>
<circle cx="1224.9" cy="490.6" r="4.15" fill="#0000ff" stroke="#fff" stroke-width="1.1"/>
<circle cx="1261.7" cy="485.5" r="4.15" fill="#0000ff" stroke="#fff" stroke-width="1.1"/>
<circle cx="1298.5" cy="465.7" r="4.15" fill="#0000ff" stroke="#fff" stroke-width="1.1"/>
<circle cx="1335.3" cy="381.8" r="4.15" fill="#0000ff" stroke="#fff" stroke-width="1.1"/>
<circle cx="1372.1" cy="273.1" r="4.15" fill="#0000ff" stroke="#fff" stroke-width="1.1"/>
<circle cx="1408.9" cy="299.4" r="4.15" fill="#0000ff" stroke="#fff" stroke-width="1.1"/>
<circle cx="1445.7" cy="323.1" r="4.15" fill="#0000ff" stroke="#fff" stroke-width="1.1"/>
<circle cx="1482.5" cy="352.3" r="4.15" fill="#0000ff" stroke="#fff" stroke-width="1.1"/>
<circle cx="1519.3" cy="368.5" r="4.15" fill="#0000ff" stroke="#fff" stroke-width="1.1"/>
<circle cx="1556.1" cy="381.2" r="4.15" fill="#0000ff" stroke="#fff" stroke-width="1.1"/>
<circle cx="1592.9" cy="397.6" r="4.15" fill="#0000ff" stroke="#fff" stroke-width="1.1"/>
<circle cx="1629.7" cy="410.8" r="4.15" fill="#0000ff" stroke="#fff" stroke-width="1.1"/>
<circle cx="1666.5" cy="424.2" r="4.15" fill="#0000ff" stroke="#fff" stroke-width="1.1"/>
<circle cx="1703.3" cy="436.6" r="4.15" fill="#0000ff" stroke="#fff" stroke-width="1.1"/>
<polyline points="967.3,508.4 1004.1,505.3 1040.9,507 1077.7,507.4 1114.5,501.1 1151.3,497 1188.1,494 1224.9,494.4 1261.7,488.1 1298.5,461.4 1335.3,352.6 1372.1,220 1408.9,247.9 1445.7,280.4 1482.5,313.5 1519.3,333.5 1556.1,349 1592.9,372 1629.7,390.3 1666.5,407.3 1703.3,422" fill="none" stroke="#00ffff" stroke-width="3.6" stroke-linejoin="round"/>
<path d="M962.6 503.7L972 513.1M962.6 513.1L972 503.7" stroke="#fff" stroke-width="1.4" fill="none"/>
<path d="M999.4 500.6L1008.8 510M999.4 510L1008.8 500.6" stroke="#fff" stroke-width="1.4" fill="none"/>
<path d="M1036.2 502.3L1045.6 511.7M1036.2 511.7L1045.6 502.3" stroke="#fff" stroke-width="1.4" fill="none"/>
<path d="M1073 502.7L1082.4 512.1M1073 512.1L1082.4 502.7" stroke="#fff" stroke-width="1.4" fill="none"/>
<path d="M1109.8 496.4L1119.2 505.8M1109.8 505.8L1119.2 496.4" stroke="#fff" stroke-width="1.4" fill="none"/>
<path d="M1146.6 492.3L1156 501.7M1146.6 501.7L1156 492.3" stroke="#fff" stroke-width="1.4" fill="none"/>
<path d="M1183.4 489.3L1192.8 498.7M1183.4 498.7L1192.8 489.3" stroke="#fff" stroke-width="1.4" fill="none"/>
<path d="M1220.2 489.7L1229.6 499.1M1220.2 499.1L1229.6 489.7" stroke="#fff" stroke-width="1.4" fill="none"/>
<path d="M1257 483.4L1266.4 492.8M1257 492.8L1266.4 483.4" stroke="#fff" stroke-width="1.4" fill="none"/>
<path d="M1293.8 456.7L1303.2 466.1M1293.8 466.1L1303.2 456.7" stroke="#fff" stroke-width="1.4" fill="none"/>
<path d="M1330.6 347.9L1340 357.3M1330.6 357.3L1340 347.9" stroke="#fff" stroke-width="1.4" fill="none"/>
<path d="M1367.4 215.3L1376.8 224.7M1367.4 224.7L1376.8 215.3" stroke="#fff" stroke-width="1.4" fill="none"/>
<path d="M1404.2 243.2L1413.6 252.6M1404.2 252.6L1413.6 243.2" stroke="#fff" stroke-width="1.4" fill="none"/>
<path d="M1441 275.7L1450.4 285.1M1441 285.1L1450.4 275.7" stroke="#fff" stroke-width="1.4" fill="none"/>
<path d="M1477.8 308.8L1487.2 318.2M1477.8 318.2L1487.2 308.8" stroke="#fff" stroke-width="1.4" fill="none"/>
<path d="M1514.6 328.8L1524 338.2M1514.6 338.2L1524 328.8" stroke="#fff" stroke-width="1.4" fill="none"/>
<path d="M1551.4 344.3L1560.8 353.7M1551.4 353.7L1560.8 344.3" stroke="#fff" stroke-width="1.4" fill="none"/>
<path d="M1588.2 367.3L1597.6 376.7M1588.2 376.7L1597.6 367.3" stroke="#fff" stroke-width="1.4" fill="none"/>
<path d="M1625 385.6L1634.4 395M1625 395L1634.4 385.6" stroke="#fff" stroke-width="1.4" fill="none"/>
<path d="M1661.8 402.6L1671.2 412M1661.8 412L1671.2 402.6" stroke="#fff" stroke-width="1.4" fill="none"/>
<path d="M1698.6 417.3L1708 426.7M1698.6 426.7L1708 417.3" stroke="#fff" stroke-width="1.4" fill="none"/>
<polyline points="967.3,503 1004.1,492.8 1040.9,492.8 1077.7,499 1114.5,497.5 1151.3,490.5 1188.1,488.1 1224.9,488.5 1261.7,483 1298.5,447.4 1335.3,307.1 1372.1,151.9 1408.9,193.7 1445.7,237.4 1482.5,265.6 1519.3,298.7 1556.1,321.2 1592.9,346.4 1629.7,371.7 1666.5,383.4 1703.3,397.4" fill="none" stroke="#7f7f7f" stroke-width="3.6" stroke-linejoin="round"/>
<path d="M962.6 498.3L972 507.7M962.6 507.7L972 498.3" stroke="#fff" stroke-width="1.4" fill="none"/>
<path d="M999.4 488.1L1008.8 497.5M999.4 497.5L1008.8 488.1" stroke="#fff" stroke-width="1.4" fill="none"/>
<path d="M1036.2 488.1L1045.6 497.5M1036.2 497.5L1045.6 488.1" stroke="#fff" stroke-width="1.4" fill="none"/>
<path d="M1073 494.3L1082.4 503.7M1073 503.7L1082.4 494.3" stroke="#fff" stroke-width="1.4" fill="none"/>
<path d="M1109.8 492.8L1119.2 502.2M1109.8 502.2L1119.2 492.8" stroke="#fff" stroke-width="1.4" fill="none"/>
<path d="M1146.6 485.8L1156 495.2M1146.6 495.2L1156 485.8" stroke="#fff" stroke-width="1.4" fill="none"/>
<path d="M1183.4 483.4L1192.8 492.8M1183.4 492.8L1192.8 483.4" stroke="#fff" stroke-width="1.4" fill="none"/>
<path d="M1220.2 483.8L1229.6 493.2M1220.2 493.2L1229.6 483.8" stroke="#fff" stroke-width="1.4" fill="none"/>
<path d="M1257 478.3L1266.4 487.7M1257 487.7L1266.4 478.3" stroke="#fff" stroke-width="1.4" fill="none"/>
<path d="M1293.8 442.7L1303.2 452.1M1293.8 452.1L1303.2 442.7" stroke="#fff" stroke-width="1.4" fill="none"/>
<path d="M1330.6 302.4L1340 311.8M1330.6 311.8L1340 302.4" stroke="#fff" stroke-width="1.4" fill="none"/>
<path d="M1367.4 147.2L1376.8 156.6M1367.4 156.6L1376.8 147.2" stroke="#fff" stroke-width="1.4" fill="none"/>
<path d="M1404.2 189L1413.6 198.4M1404.2 198.4L1413.6 189" stroke="#fff" stroke-width="1.4" fill="none"/>
<path d="M1441 232.7L1450.4 242.1M1441 242.1L1450.4 232.7" stroke="#fff" stroke-width="1.4" fill="none"/>
<path d="M1477.8 260.9L1487.2 270.3M1477.8 270.3L1487.2 260.9" stroke="#fff" stroke-width="1.4" fill="none"/>
<path d="M1514.6 294L1524 303.4M1514.6 303.4L1524 294" stroke="#fff" stroke-width="1.4" fill="none"/>
<path d="M1551.4 316.5L1560.8 325.9M1551.4 325.9L1560.8 316.5" stroke="#fff" stroke-width="1.4" fill="none"/>
<path d="M1588.2 341.7L1597.6 351.1M1588.2 351.1L1597.6 341.7" stroke="#fff" stroke-width="1.4" fill="none"/>
<path d="M1625 367L1634.4 376.4M1625 376.4L1634.4 367" stroke="#fff" stroke-width="1.4" fill="none"/>
<path d="M1661.8 378.7L1671.2 388.1M1661.8 388.1L1671.2 378.7" stroke="#fff" stroke-width="1.4" fill="none"/>
<path d="M1698.6 392.7L1708 402.1M1698.6 402.1L1708 392.7" stroke="#fff" stroke-width="1.4" fill="none"/>
<polyline points="967.3,505.3 1004.1,498 1040.9,500.1 1077.7,502.2 1114.5,500.1 1151.3,496.2 1188.1,493.2 1224.9,493.2 1261.7,481.7 1298.5,451.2 1335.3,323.1 1372.1,180 1408.9,212.5 1445.7,253.7 1482.5,286.9 1519.3,311.7 1556.1,332.5 1592.9,353.8 1629.7,377.8 1666.5,394 1703.3,410.4" fill="none" stroke="#ff0000" stroke-width="3.6" stroke-linejoin="round"/>
<polygon points="967.3,501.9 968.2,504.1 970.5,504.2 968.8,505.8 969.3,508.1 967.3,506.8 965.3,508.1 965.8,505.8 964.1,504.2 966.4,504.1" fill="#ff0000" stroke="#fff" stroke-width="1.5" stroke-linejoin="round"/>
<polygon points="1004.1,494.6 1005,496.8 1007.3,496.9 1005.6,498.5 1006.1,500.8 1004.1,499.5 1002.1,500.8 1002.6,498.5 1000.9,496.9 1003.2,496.8" fill="#ff0000" stroke="#fff" stroke-width="1.5" stroke-linejoin="round"/>
<polygon points="1040.9,496.7 1041.8,498.9 1044.1,499 1042.4,500.6 1042.9,502.9 1040.9,501.6 1038.9,502.9 1039.4,500.6 1037.7,499 1040,498.9" fill="#ff0000" stroke="#fff" stroke-width="1.5" stroke-linejoin="round"/>
<polygon points="1077.7,498.8 1078.6,501 1080.9,501.1 1079.2,502.7 1079.7,505 1077.7,503.7 1075.7,505 1076.2,502.7 1074.5,501.1 1076.8,501" fill="#ff0000" stroke="#fff" stroke-width="1.5" stroke-linejoin="round"/>
<polygon points="1114.5,496.7 1115.4,498.9 1117.7,499 1116,500.6 1116.5,502.9 1114.5,501.6 1112.5,502.9 1113,500.6 1111.3,499 1113.6,498.9" fill="#ff0000" stroke="#fff" stroke-width="1.5" stroke-linejoin="round"/>
<polygon points="1151.3,492.8 1152.2,495 1154.5,495.1 1152.8,496.7 1153.3,499 1151.3,497.7 1149.3,499 1149.8,496.7 1148.1,495.1 1150.4,495" fill="#ff0000" stroke="#fff" stroke-width="1.5" stroke-linejoin="round"/>
<polygon points="1188.1,489.8 1189,492 1191.3,492.1 1189.6,493.7 1190.1,496 1188.1,494.7 1186.1,496 1186.6,493.7 1184.9,492.1 1187.2,492" fill="#ff0000" stroke="#fff" stroke-width="1.5" stroke-linejoin="round"/>
<polygon points="1224.9,489.8 1225.8,492 1228.1,492.1 1226.4,493.7 1226.9,496 1224.9,494.7 1222.9,496 1223.4,493.7 1221.7,492.1 1224,492" fill="#ff0000" stroke="#fff" stroke-width="1.5" stroke-linejoin="round"/>
<polygon points="1261.7,478.3 1262.6,480.5 1264.9,480.6 1263.2,482.2 1263.7,484.5 1261.7,483.2 1259.7,484.5 1260.2,482.2 1258.5,480.6 1260.8,480.5" fill="#ff0000" stroke="#fff" stroke-width="1.5" stroke-linejoin="round"/>
<polygon points="1298.5,447.8 1299.4,450 1301.7,450.1 1300,451.7 1300.5,454 1298.5,452.7 1296.5,454 1297,451.7 1295.3,450.1 1297.6,450" fill="#ff0000" stroke="#fff" stroke-width="1.5" stroke-linejoin="round"/>
<polygon points="1335.3,319.7 1336.2,321.9 1338.5,322 1336.8,323.6 1337.3,325.9 1335.3,324.6 1333.3,325.9 1333.8,323.6 1332.1,322 1334.4,321.9" fill="#ff0000" stroke="#fff" stroke-width="1.5" stroke-linejoin="round"/>
<polygon points="1372.1,176.6 1373,178.8 1375.3,178.9 1373.6,180.5 1374.1,182.8 1372.1,181.5 1370.1,182.8 1370.6,180.5 1368.9,178.9 1371.2,178.8" fill="#ff0000" stroke="#fff" stroke-width="1.5" stroke-linejoin="round"/>
<polygon points="1408.9,209.1 1409.8,211.3 1412.1,211.4 1410.4,213 1410.9,215.3 1408.9,214 1406.9,215.3 1407.4,213 1405.7,211.4 1408,211.3" fill="#ff0000" stroke="#fff" stroke-width="1.5" stroke-linejoin="round"/>
<polygon points="1445.7,250.3 1446.6,252.5 1448.9,252.6 1447.2,254.2 1447.7,256.5 1445.7,255.2 1443.7,256.5 1444.2,254.2 1442.5,252.6 1444.8,252.5" fill="#ff0000" stroke="#fff" stroke-width="1.5" stroke-linejoin="round"/>
<polygon points="1482.5,283.5 1483.4,285.7 1485.7,285.8 1484,287.4 1484.5,289.7 1482.5,288.4 1480.5,289.7 1481,287.4 1479.3,285.8 1481.6,285.7" fill="#ff0000" stroke="#fff" stroke-width="1.5" stroke-linejoin="round"/>
<polygon points="1519.3,308.3 1520.2,310.5 1522.5,310.6 1520.8,312.2 1521.3,314.5 1519.3,313.2 1517.3,314.5 1517.8,312.2 1516.1,310.6 1518.4,310.5" fill="#ff0000" stroke="#fff" stroke-width="1.5" stroke-linejoin="round"/>
<polygon points="1556.1,329.1 1557,331.3 1559.3,331.4 1557.6,333 1558.1,335.3 1556.1,334 1554.1,335.3 1554.6,333 1552.9,331.4 1555.2,331.3" fill="#ff0000" stroke="#fff" stroke-width="1.5" stroke-linejoin="round"/>
<polygon points="1592.9,350.4 1593.8,352.6 1596.1,352.7 1594.4,354.3 1594.9,356.6 1592.9,355.3 1590.9,356.6 1591.4,354.3 1589.7,352.7 1592,352.6" fill="#ff0000" stroke="#fff" stroke-width="1.5" stroke-linejoin="round"/>
<polygon points="1629.7,374.4 1630.6,376.6 1632.9,376.7 1631.2,378.3 1631.7,380.6 1629.7,379.3 1627.7,380.6 1628.2,378.3 1626.5,376.7 1628.8,376.6" fill="#ff0000" stroke="#fff" stroke-width="1.5" stroke-linejoin="round"/>
<polygon points="1666.5,390.6 1667.4,392.8 1669.7,392.9 1668,394.5 1668.5,396.8 1666.5,395.5 1664.5,396.8 1665,394.5 1663.3,392.9 1665.6,392.8" fill="#ff0000" stroke="#fff" stroke-width="1.5" stroke-linejoin="round"/>
<polygon points="1703.3,407 1704.2,409.2 1706.5,409.3 1704.8,410.9 1705.3,413.2 1703.3,411.9 1701.3,413.2 1701.8,410.9 1700.1,409.3 1702.4,409.2" fill="#ff0000" stroke="#fff" stroke-width="1.5" stroke-linejoin="round"/>
<polyline points="967.3,507.4 1004.1,500.1 1040.9,497 1077.7,500.1 1114.5,498.4 1151.3,489.4 1188.1,481.7 1224.9,483.8 1261.7,472.8 1298.5,439.8 1335.3,294.5 1372.1,111.7 1408.9,164.3 1445.7,209.5 1482.5,251.5 1519.3,275.1 1556.1,287.6 1592.9,313.3 1629.7,341.3 1666.5,349.4 1703.3,375" fill="none" stroke="#000000" stroke-width="3.6" stroke-linejoin="round"/>
<circle cx="967.3" cy="507.4" r="4.15" fill="#000000" stroke="#fff" stroke-width="1.1"/>
<circle cx="1004.1" cy="500.1" r="4.15" fill="#000000" stroke="#fff" stroke-width="1.1"/>
<circle cx="1040.9" cy="497" r="4.15" fill="#000000" stroke="#fff" stroke-width="1.1"/>
<circle cx="1077.7" cy="500.1" r="4.15" fill="#000000" stroke="#fff" stroke-width="1.1"/>
<circle cx="1114.5" cy="498.4" r="4.15" fill="#000000" stroke="#fff" stroke-width="1.1"/>
<circle cx="1151.3" cy="489.4" r="4.15" fill="#000000" stroke="#fff" stroke-width="1.1"/>
<circle cx="1188.1" cy="481.7" r="4.15" fill="#000000" stroke="#fff" stroke-width="1.1"/>
<circle cx="1224.9" cy="483.8" r="4.15" fill="#000000" stroke="#fff" stroke-width="1.1"/>
<circle cx="1261.7" cy="472.8" r="4.15" fill="#000000" stroke="#fff" stroke-width="1.1"/>
<circle cx="1298.5" cy="439.8" r="4.15" fill="#000000" stroke="#fff" stroke-width="1.1"/>
<circle cx="1335.3" cy="294.5" r="4.15" fill="#000000" stroke="#fff" stroke-width="1.1"/>
<circle cx="1372.1" cy="111.7" r="4.15" fill="#000000" stroke="#fff" stroke-width="1.1"/>
<circle cx="1408.9" cy="164.3" r="4.15" fill="#000000" stroke="#fff" stroke-width="1.1"/>
<circle cx="1445.7" cy="209.5" r="4.15" fill="#000000" stroke="#fff" stroke-width="1.1"/>
<circle cx="1482.5" cy="251.5" r="4.15" fill="#000000" stroke="#fff" stroke-width="1.1"/>
<circle cx="1519.3" cy="275.1" r="4.15" fill="#000000" stroke="#fff" stroke-width="1.1"/>
<circle cx="1556.1" cy="287.6" r="4.15" fill="#000000" stroke="#fff" stroke-width="1.1"/>
<circle cx="1592.9" cy="313.3" r="4.15" fill="#000000" stroke="#fff" stroke-width="1.1"/>
<circle cx="1629.7" cy="341.3" r="4.15" fill="#000000" stroke="#fff" stroke-width="1.1"/>
<circle cx="1666.5" cy="349.4" r="4.15" fill="#000000" stroke="#fff" stroke-width="1.1"/>
<circle cx="1703.3" cy="375" r="4.15" fill="#000000" stroke="#fff" stroke-width="1.1"/>
<rect x="930.8" y="31.4" width="809.5" height="520.6" fill="none" stroke="#000" stroke-width="1.6"/>
<path d="M930.8 530.1H920.1M930.8 464.6H920.1M930.8 399.1H920.1M930.8 333.6H920.1M930.8 268.2H920.1M930.8 202.7H920.1M930.8 137.2H920.1M930.8 71.7H920.1M967.3 552V562.3M1040.9 552V562.3M1114.5 552V562.3M1188.1 552V562.3M1261.7 552V562.3M1335.3 552V562.3M1408.9 552V562.3M1482.5 552V562.3M1556.1 552V562.3M1629.7 552V562.3M1703.3 552V562.3" stroke="#000" stroke-width="1.6" fill="none"/>
<path d="M947.7 59.7H993" stroke="#0000ff" stroke-width="3.6"/>
<circle cx="970.3" cy="59.7" r="3.3" fill="#0000ff" stroke="#fff" stroke-width="1"/>
<path d="M947.7 91H993" stroke="#00ffff" stroke-width="3.6"/>
<path d="M968.3 89L972.3 93M968.3 93L972.3 89" stroke="#fff" stroke-width="1.0" fill="none"/>
<path d="M947.7 122.3H993" stroke="#ff0000" stroke-width="3.6"/>
<polygon points="970.3,120.3 970.8,121.6 972.2,121.7 971.2,122.6 971.5,124 970.3,123.2 969.1,124 969.4,122.6 968.4,121.7 969.8,121.6" fill="#ff0000" stroke="#fff" stroke-width="1.5" stroke-linejoin="round"/>
<path d="M947.7 153.6H993" stroke="#7f7f7f" stroke-width="3.6"/>
<path d="M968.3 151.6L972.3 155.6M968.3 155.6L972.3 151.6" stroke="#fff" stroke-width="1.0" fill="none"/>
<path d="M947.7 184.9H993" stroke="#000000" stroke-width="3.6"/>
<circle cx="970.3" cy="184.9" r="3.3" fill="#000000" stroke="#fff" stroke-width="1"/>
<text x="52.2" y="523.2" font-size="23.0" textLength="8.4" lengthAdjust="spacingAndGlyphs">1</text>
<text x="47.2" y="456.1" font-size="23.0" textLength="13.7" lengthAdjust="spacingAndGlyphs">2</text>
<text x="48.2" y="388.9" font-size="23.0" textLength="13.4" lengthAdjust="spacingAndGlyphs">3</text>
<text x="47.2" y="321.8" font-size="23.0" textLength="13.1" lengthAdjust="spacingAndGlyphs">4</text>
<text x="48.2" y="254.6" font-size="23.0" textLength="13.1" lengthAdjust="spacingAndGlyphs">5</text>
<text x="47.2" y="187.5" font-size="23.0" textLength="13.6" lengthAdjust="spacingAndGlyphs">6</text>
<text x="48.2" y="120.4" font-size="23.0" textLength="12.6" lengthAdjust="spacingAndGlyphs">7</text>
<text x="48.2" y="53.2" font-size="23.0" textLength="13.3" lengthAdjust="spacingAndGlyphs">8</text>
<text x="102.1" y="607.3" font-size="23.0" textLength="25.1" lengthAdjust="spacingAndGlyphs">−5</text>
<text x="164.9" y="607.3" font-size="23.0" textLength="25.5" lengthAdjust="spacingAndGlyphs">−4</text>
<text x="228.3" y="607.3" font-size="23.0" textLength="26.2" lengthAdjust="spacingAndGlyphs">−3</text>
<text x="292.1" y="607.3" font-size="23.0" textLength="24.5" lengthAdjust="spacingAndGlyphs">−2</text>
<text x="357.4" y="607.3" font-size="23.0" textLength="20.5" lengthAdjust="spacingAndGlyphs">−1</text>
<text x="423.9" y="607.3" font-size="23.0" textLength="15.4" lengthAdjust="spacingAndGlyphs">0</text>
<text x="490.3" y="607.3" font-size="23.0" textLength="8.6" lengthAdjust="spacingAndGlyphs">1</text>
<text x="551.1" y="607.3" font-size="23.0" textLength="13.7" lengthAdjust="spacingAndGlyphs">2</text>
<text x="614.9" y="607.3" font-size="23.0" textLength="13.4" lengthAdjust="spacingAndGlyphs">3</text>
<text x="678.3" y="607.3" font-size="23.0" textLength="13.1" lengthAdjust="spacingAndGlyphs">4</text>
<text x="741.6" y="607.3" font-size="23.0" textLength="13.1" lengthAdjust="spacingAndGlyphs">5</text>
<text x="873" y="537.5" font-size="23.0" textLength="33.8" lengthAdjust="spacingAndGlyphs">0.5</text>
<text x="876" y="472" font-size="23.0" textLength="31.1" lengthAdjust="spacingAndGlyphs">1.0</text>
<text x="878" y="406.5" font-size="23.0" textLength="28.6" lengthAdjust="spacingAndGlyphs">1.5</text>
<text x="872" y="341.1" font-size="23.0" textLength="34.7" lengthAdjust="spacingAndGlyphs">2.0</text>
<text x="873" y="275.6" font-size="23.0" textLength="34.1" lengthAdjust="spacingAndGlyphs">2.5</text>
<text x="872" y="210.1" font-size="23.0" textLength="34.7" lengthAdjust="spacingAndGlyphs">3.0</text>
<text x="873" y="144.6" font-size="23.0" textLength="33.9" lengthAdjust="spacingAndGlyphs">3.5</text>
<text x="873" y="79.1" font-size="23.0" textLength="34.3" lengthAdjust="spacingAndGlyphs">4.0</text>
<text x="954.6" y="592.3" font-size="23.0" textLength="25.1" lengthAdjust="spacingAndGlyphs">−5</text>
<text x="1027.7" y="592.3" font-size="23.0" textLength="25.5" lengthAdjust="spacingAndGlyphs">−4</text>
<text x="1101.3" y="592.3" font-size="23.0" textLength="26.2" lengthAdjust="spacingAndGlyphs">−3</text>
<text x="1175.4" y="592.3" font-size="23.0" textLength="24.5" lengthAdjust="spacingAndGlyphs">−2</text>
<text x="1251" y="592.3" font-size="23.0" textLength="20.5" lengthAdjust="spacingAndGlyphs">−1</text>
<text x="1327.8" y="592.3" font-size="23.0" textLength="15.4" lengthAdjust="spacingAndGlyphs">0</text>
<text x="1404.4" y="592.3" font-size="23.0" textLength="8.6" lengthAdjust="spacingAndGlyphs">1</text>
<text x="1475.5" y="592.3" font-size="23.0" textLength="13.7" lengthAdjust="spacingAndGlyphs">2</text>
<text x="1549.6" y="592.3" font-size="23.0" textLength="13.4" lengthAdjust="spacingAndGlyphs">3</text>
<text x="1623.2" y="592.3" font-size="23.0" textLength="13.1" lengthAdjust="spacingAndGlyphs">4</text>
<text x="1696.8" y="592.3" font-size="23.0" textLength="13.1" lengthAdjust="spacingAndGlyphs">5</text>
<text x="138.9" y="55.2" font-size="23.0" textLength="78.2" lengthAdjust="spacingAndGlyphs">0.05 m</text>
<text x="138.9" y="78.3" font-size="23.0" textLength="62" lengthAdjust="spacingAndGlyphs">0.5 m</text>
<text x="139.4" y="101.5" font-size="23.0" textLength="40.4" lengthAdjust="spacingAndGlyphs">4 m</text>
<text x="136.4" y="124.5" font-size="23.0" textLength="51.1" lengthAdjust="spacingAndGlyphs">12 m</text>
<text x="289.5" y="55.2" font-size="23.0" textLength="54" lengthAdjust="spacingAndGlyphs">24 m</text>
<text x="289.8" y="78.3" font-size="23.0" textLength="54.5" lengthAdjust="spacingAndGlyphs">38 m</text>
<text x="289.5" y="101.5" font-size="23.0" textLength="55.4" lengthAdjust="spacingAndGlyphs">53 m</text>
<text x="289.5" y="124.5" font-size="23.0" textLength="54" lengthAdjust="spacingAndGlyphs">79 m</text>
<text x="164.4" y="646.9" font-size="26.7" textLength="532.6" lengthAdjust="spacingAndGlyphs">Hours before and after maximum rain rate</text>
<text transform="translate(22.8,444.3) rotate(-90)" font-size="26.7" textLength="293.9" lengthAdjust="spacingAndGlyphs">O<tspan font-size="18.5" dy="8">3</tspan><tspan dy="-8"> concentration (ppb)</tspan></text>
<text x="-0.3" y="29.8" font-size="40" font-weight="bold" textLength="21" lengthAdjust="spacingAndGlyphs">a</text>
<text x="1003.7" y="68" font-size="23.0" textLength="173.4" lengthAdjust="spacingAndGlyphs">Rain &gt; 0.5 mm h</text>
<text x="1003.7" y="99.3" font-size="23.0" textLength="166.6" lengthAdjust="spacingAndGlyphs">Rain &gt; 1.5 mm h</text>
<text x="1003.7" y="130.8" font-size="23.0" textLength="173.5" lengthAdjust="spacingAndGlyphs">Rain &gt; 3.0 mm h</text>
<text x="1003.7" y="162.2" font-size="23.0" textLength="171.9" lengthAdjust="spacingAndGlyphs">Rain &gt; 4.5 mm h</text>
<text x="1003.7" y="193.6" font-size="23.0" textLength="174.6" lengthAdjust="spacingAndGlyphs">Rain &gt; 6.0 mm h</text>
<text x="1069" y="632.1" font-size="26.7" textLength="532.3" lengthAdjust="spacingAndGlyphs">Hours before and after maximum rain rate</text>
<text transform="translate(846,438.7) rotate(-90)" font-size="26.7" textLength="294.6" lengthAdjust="spacingAndGlyphs">O<tspan font-size="18.5" dy="8">3</tspan><tspan dy="-8"> concentration (ppb)</tspan></text>
<text x="821.7" y="29.4" font-size="40" font-weight="bold" textLength="27.2" lengthAdjust="spacingAndGlyphs">b</text>
<text x="1173" y="53.6" font-size="15">−1</text>
<text x="1167.2" y="85" font-size="15">−1</text>
<text x="1174.3" y="116.4" font-size="15">−1</text>
<text x="1172.1" y="147.8" font-size="15">−1</text>
<text x="1174.3" y="179.2" font-size="15">−1</text>
</svg></body></html>
